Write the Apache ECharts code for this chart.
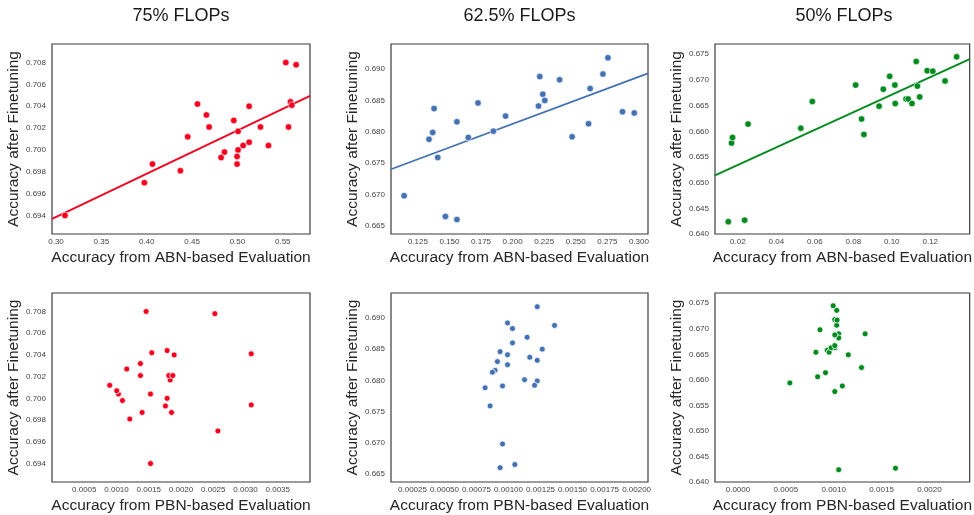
<!DOCTYPE html>
<html>
<head>
<meta charset="utf-8">
<script src="https://cdn.jsdelivr.net/npm/echarts@6/dist/echarts.min.js"></script>
<style>
html, body { margin: 0; padding: 0; background: #fff; }
#main { width: 974px; height: 515px; }
</style>
</head>
<body>
<div id="main"></div>
<script>
// 三个剪枝比例
var titles = ['75% FLOPs', '62.5% FLOPs', '50% FLOPs'];

// 75% FLOPs : finetune acc / ABN acc / PBN acc
var ft75  = [0.6940, 0.6970, 0.6987, 0.6981, 0.7012, 0.7042, 0.7032, 0.7021, 0.6993, 0.6998, 0.7027, 0.7017, 0.7000,
             0.6994, 0.6987, 0.7004, 0.7007, 0.7040, 0.7021, 0.7004, 0.7080, 0.7078, 0.7021, 0.7044, 0.7041];
var abn75 = [0.3099, 0.3974, 0.4063, 0.4371, 0.4452, 0.4559, 0.4658, 0.4688, 0.4820, 0.4857, 0.4960, 0.5007, 0.5007,
             0.4996, 0.4996, 0.5063, 0.5129, 0.5129, 0.5254, 0.5342, 0.5533, 0.5647, 0.5563, 0.5585, 0.5599];
var pbn75 = [0.001527, 0.002572, 0.001397, 0.001206, 0.000895, 0.001547, 0.001371, 0.001371, 0.001759, 0.001092,
             0.001159, 0.001832, 0.001785, 0.003089, 0.001853, 0.001030, 0.001004, 0.001894, 0.001811, 0.001527,
             0.001459, 0.002525, 0.001873, 0.001785, 0.003089];

// 62.5% FLOPs
var ft625  = [0.6698, 0.6788, 0.6799, 0.6837, 0.6759, 0.6665, 0.6660, 0.6816, 0.6791, 0.6846, 0.6801, 0.6825,
              0.6841, 0.6888, 0.6860, 0.6850, 0.6883, 0.6792, 0.6813, 0.6869, 0.6892, 0.6918, 0.6832, 0.6830];
var abn625 = [0.1141, 0.1338, 0.1367, 0.1378, 0.1407, 0.1468, 0.1559, 0.1559, 0.1649, 0.1726, 0.1848, 0.1944,
              0.2205, 0.2215, 0.2239, 0.2255, 0.2372, 0.2471, 0.2601, 0.2614, 0.2715, 0.2755, 0.2870, 0.2963];
var pbn625 = [0.000953, 0.000817, 0.001224, 0.001166, 0.000856, 0.001049, 0.000934, 0.000895, 0.000953, 0.000934,
              0.001125, 0.000992, 0.000992, 0.001359, 0.001031, 0.001263, 0.001031, 0.001203, 0.000874, 0.001145,
              0.000992, 0.001224, 0.001224, 0.000913];

// 50% FLOPs
var ft50  = [0.6424, 0.6427, 0.6577, 0.6588, 0.6614, 0.6606, 0.6658, 0.6690, 0.6624, 0.6594, 0.6649, 0.6682, 0.6690,
             0.6654, 0.6707, 0.6663, 0.6663, 0.6654, 0.6736, 0.6688, 0.6667, 0.6718, 0.6717, 0.6698, 0.6745];
var abn50 = [0.0150, 0.0235, 0.0167, 0.0172, 0.0253, 0.0527, 0.0587, 0.0812, 0.0843, 0.0855, 0.0934, 0.0956, 0.1016,
             0.1018, 0.0989, 0.1074, 0.1085, 0.1105, 0.1127, 0.1133, 0.1145, 0.1184, 0.1213, 0.1277, 0.1337];
var pbn50 = [0.001052, 0.001645, 0.001011, 0.001090, 0.000914, 0.000832, 0.000932, 0.001052, 0.001290, 0.000542,
             0.001152, 0.001052, 0.001328, 0.000952, 0.001031, 0.001011, 0.000973, 0.000814, 0.001031, 0.001011,
             0.001011, 0.001011, 0.001035, 0.000856, 0.000994];

// 刻度
var abnTicks75  = [0.30, 0.35, 0.40, 0.45, 0.50, 0.55];
var abnTicks625 = [0.125, 0.150, 0.175, 0.200, 0.225, 0.250, 0.275, 0.300];
var abnTicks50  = [0.02, 0.04, 0.06, 0.08, 0.10, 0.12];
var pbnTicks75  = [0.0005, 0.0010, 0.0015, 0.0020, 0.0025, 0.0030, 0.0035];
var pbnTicks625 = [0.00025, 0.00050, 0.00075, 0.00100, 0.00125, 0.00150, 0.00175, 0.00200];
var pbnTicks50  = [0.0000, 0.0005, 0.0010, 0.0015, 0.0020];
var ftTicks75   = [0.694, 0.696, 0.698, 0.700, 0.702, 0.704, 0.706, 0.708];
var ftTicks625  = [0.665, 0.670, 0.675, 0.680, 0.685, 0.690];
var ftTicks50   = [0.640, 0.645, 0.650, 0.655, 0.660, 0.665, 0.670, 0.675];

// 坐标轴范围
var abnRange = [[0.2956, 0.5800], [0.1037, 0.3072], [0.0081, 0.1405]];
var pbnRange = [[0.0000, 0.0040], [0.000082, 0.002089], [-0.00024, 0.00242]];
var ftRange  = [[0.6923, 0.7097], [0.6637, 0.6940], [0.6400, 0.6770]];

var colors = ['#f5001e', '#4471b2', '#008a1e'];
var FONT = 'Liberation Sans, Arial, sans-serif';

var ftList  = [ft75, ft625, ft50];
var abnList = [abn75, abn625, abn50];
var pbnList = [pbn75, pbn625, pbn50];
var abnTicks = [abnTicks75, abnTicks625, abnTicks50];
var pbnTicks = [pbnTicks75, pbnTicks625, pbnTicks50];
var ftTicks  = [ftTicks75, ftTicks625, ftTicks50];
var abnDec = [2, 3, 2], pbnDec = [4, 5, 4];

var colLeft = [52, 391, 715];
var colWidth = [258, 257, 258];

// 最小二乘拟合
function linFit(xs, ys) {
    var n = xs.length, mx = 0, my = 0, sxy = 0, sxx = 0;
    for (var i = 0; i < n; i++) { mx += xs[i]; my += ys[i]; }
    mx /= n; my /= n;
    for (var i = 0; i < n; i++) {
        sxy += (xs[i] - mx) * (ys[i] - my);
        sxx += (xs[i] - mx) * (xs[i] - mx);
    }
    var b = sxy / sxx;
    return { a: my - b * mx, b: b };
}

function zip(xs, ys) {
    var out = [];
    for (var i = 0; i < xs.length; i++) out.push([xs[i], ys[i]]);
    return out;
}

function xAxisOpt(idx, range, ticks, dec, name) {
    return {
        type: 'value', gridIndex: idx, min: range[0], max: range[1],
        name: name, nameLocation: 'middle', nameGap: 16,
        nameTextStyle: { fontSize: 15.5, color: '#262626', fontFamily: FONT },
        axisLine: { show: false }, axisTick: { show: false }, splitLine: { show: false },
        axisLabel: {
            customValues: ticks, fontSize: 8, color: '#444', margin: 4, fontFamily: FONT,
            formatter: function (v) { return v.toFixed(dec); }
        }
    };
}

function yAxisOpt(idx, range, ticks) {
    return {
        type: 'value', gridIndex: idx, min: range[0], max: range[1],
        name: 'Accuracy after Finetuning', nameLocation: 'middle', nameGap: 27, nameRotate: 90,
        nameTextStyle: { fontSize: 15.5, color: '#262626', fontFamily: FONT },
        axisLine: { show: false }, axisTick: { show: false }, splitLine: { show: false },
        axisLabel: {
            customValues: ticks, fontSize: 8, color: '#444', margin: 6, fontFamily: FONT,
            formatter: function (v) { return v.toFixed(3); }
        }
    };
}

var grids = [], xAxes = [], yAxes = [], series = [], graphics = [];

for (var c = 0; c < 3; c++) {
    // 上排: ABN
    var gi = grids.length;
    grids.push({ left: colLeft[c], top: 44, width: colWidth[c], height: 190,
                 show: true, borderColor: '#3a3a3a', borderWidth: 1.2 });
    xAxes.push(xAxisOpt(gi, abnRange[c], abnTicks[c], abnDec[c], 'Accuracy from ABN-based Evaluation'));
    yAxes.push(yAxisOpt(gi, ftRange[c], ftTicks[c]));
    series.push({
        type: 'scatter', xAxisIndex: gi, yAxisIndex: gi, data: zip(abnList[c], ftList[c]),
        symbolSize: 6.5, itemStyle: { color: colors[c], borderColor: '#fff', borderWidth: 0.6, opacity: 1 }
    });
    var f = linFit(abnList[c], ftList[c]);
    var x0 = abnRange[c][0], x1 = abnRange[c][1];
    series.push({
        type: 'line', xAxisIndex: gi, yAxisIndex: gi, symbol: 'none', clip: true,
        data: [[x0, f.a + f.b * x0], [x1, f.a + f.b * x1]],
        lineStyle: { color: colors[c], width: 1.8 }, z: 1
    });

    // 下排: PBN
    gi = grids.length;
    grids.push({ left: colLeft[c], top: 293, width: colWidth[c], height: 191,
                 show: true, borderColor: '#3a3a3a', borderWidth: 1.2 });
    xAxes.push(xAxisOpt(gi, pbnRange[c], pbnTicks[c], pbnDec[c], 'Accuracy from PBN-based Evaluation'));
    yAxes.push(yAxisOpt(gi, ftRange[c], ftTicks[c]));
    series.push({
        type: 'scatter', xAxisIndex: gi, yAxisIndex: gi, data: zip(pbnList[c], ftList[c]),
        symbolSize: 6, itemStyle: { color: colors[c], borderColor: '#fff', borderWidth: 0.8, opacity: 1 }
    });

    // 标题居中于上排图
    graphics.push({
        type: 'text', x: colLeft[c] + colWidth[c] / 2, y: 7,
        style: { text: titles[c], fontSize: 18, fontFamily: FONT, fill: '#1a1a1a',
                 textAlign: 'center', align: 'center', textVerticalAlign: 'top', verticalAlign: 'top' }
    });
}

var myChart = echarts.init(document.getElementById('main'));
var option = {
    animation: false,
    backgroundColor: '#fff',
    grid: grids,
    xAxis: xAxes,
    yAxis: yAxes,
    series: series,
    graphic: graphics
};
myChart.setOption(option);
</script>
</body>
</html>
